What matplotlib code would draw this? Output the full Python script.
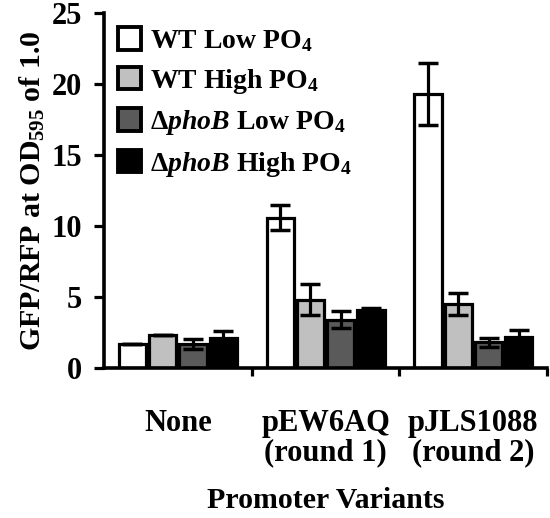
import matplotlib.pyplot as plt
import numpy as np

plt.rcParams["font.family"] = ["Liberation Serif", "DejaVu Serif"]
plt.rcParams["font.weight"] = "bold"
plt.rcParams["mathtext.fontset"] = "custom"
plt.rcParams["mathtext.rm"] = "Liberation Serif:bold"
plt.rcParams["mathtext.it"] = "Liberation Serif:italic:bold"
plt.rcParams["mathtext.bf"] = "Liberation Serif:bold"

categories = ["None", "pEW6AQ\n(round 1)", "pJLS1088\n(round 2)"]
series_names = [
    r"WT Low PO$_4$",
    r"WT High PO$_4$",
    r"$\Delta\mathit{phoB}$ Low PO$_4$",
    r"$\Delta\mathit{phoB}$ High PO$_4$",
]
wt_low = [1.7, 10.6, 19.3]
wt_high = [2.3, 4.8, 4.5]
phob_low = [1.7, 3.4, 1.8]
phob_high = [2.1, 4.1, 2.2]
wt_low_err = [0.0, 0.9, 2.2]
wt_high_err = [0.0, 1.1, 0.8]
phob_low_err = [0.35, 0.6, 0.3]
phob_high_err = [0.5, 0.15, 0.5]
colors = ["white", "#c0c0c0", "#5a5a5a", "black"]

values = [wt_low, wt_high, phob_low, phob_high]
errors = [wt_low_err, wt_high_err, phob_low_err, phob_high_err]

fig = plt.figure(figsize=(5.5, 5.18), dpi=100)
ax = fig.add_axes([0.189, 0.29, 0.806, 0.684])

x = np.arange(len(categories))
width = 0.205
offsets = [-1.5, -0.5, 0.5, 1.5]
for vals, errs, col, name, off in zip(values, errors, colors, series_names, offsets):
    ax.bar(x + off * width, vals, width * 0.9, color=col, edgecolor="black",
           linewidth=2.3, label=name, zorder=2)
    ax.errorbar(x + off * width, vals, yerr=errs, fmt="none", ecolor="black",
                elinewidth=2.3, capsize=7, capthick=2.5, zorder=3)

ax.set_ylim(0, 25)
ax.set_xlim(-0.5, 2.5)
ax.set_yticks([0, 5, 10, 15, 20, 25])
ax.set_xticks(x)
ax.set_xticklabels(categories, fontsize=22, fontweight="bold", linespacing=1.0)
ax.set_xticks([0.5, 1.5, 2.5], minor=True)
ax.tick_params(axis="x", which="major", length=0, pad=30)
ax.tick_params(axis="x", which="minor", length=6, width=2.3, direction="out")
ax.tick_params(axis="y", labelsize=22, width=2.3, length=7, direction="out", pad=9)
for lab in ax.get_yticklabels():
    lab.set_fontweight("bold")

for s in ["top", "right"]:
    ax.spines[s].set_visible(False)
for s in ["left", "bottom"]:
    ax.spines[s].set_linewidth(2.6)

ax.set_ylabel(r"GFP/RFP at OD$_{595}$ of 1.0", fontsize=21.5, fontweight="bold", labelpad=3)
ax.set_xlabel("Promoter Variants", fontsize=21.5, fontweight="bold", labelpad=14)

leg = ax.legend(loc="upper left", bbox_to_anchor=(0.0, 1.0), frameon=False,
                fontsize=20, handlelength=0.85, handleheight=0.85, handletextpad=0.3,
                labelspacing=0.45, borderaxespad=0.1)
for t in leg.get_texts():
    t.set_fontweight("bold")
for h in leg.legend_handles:
    h.set_linewidth(2.8)

fig.savefig("out.png", dpi=100)
